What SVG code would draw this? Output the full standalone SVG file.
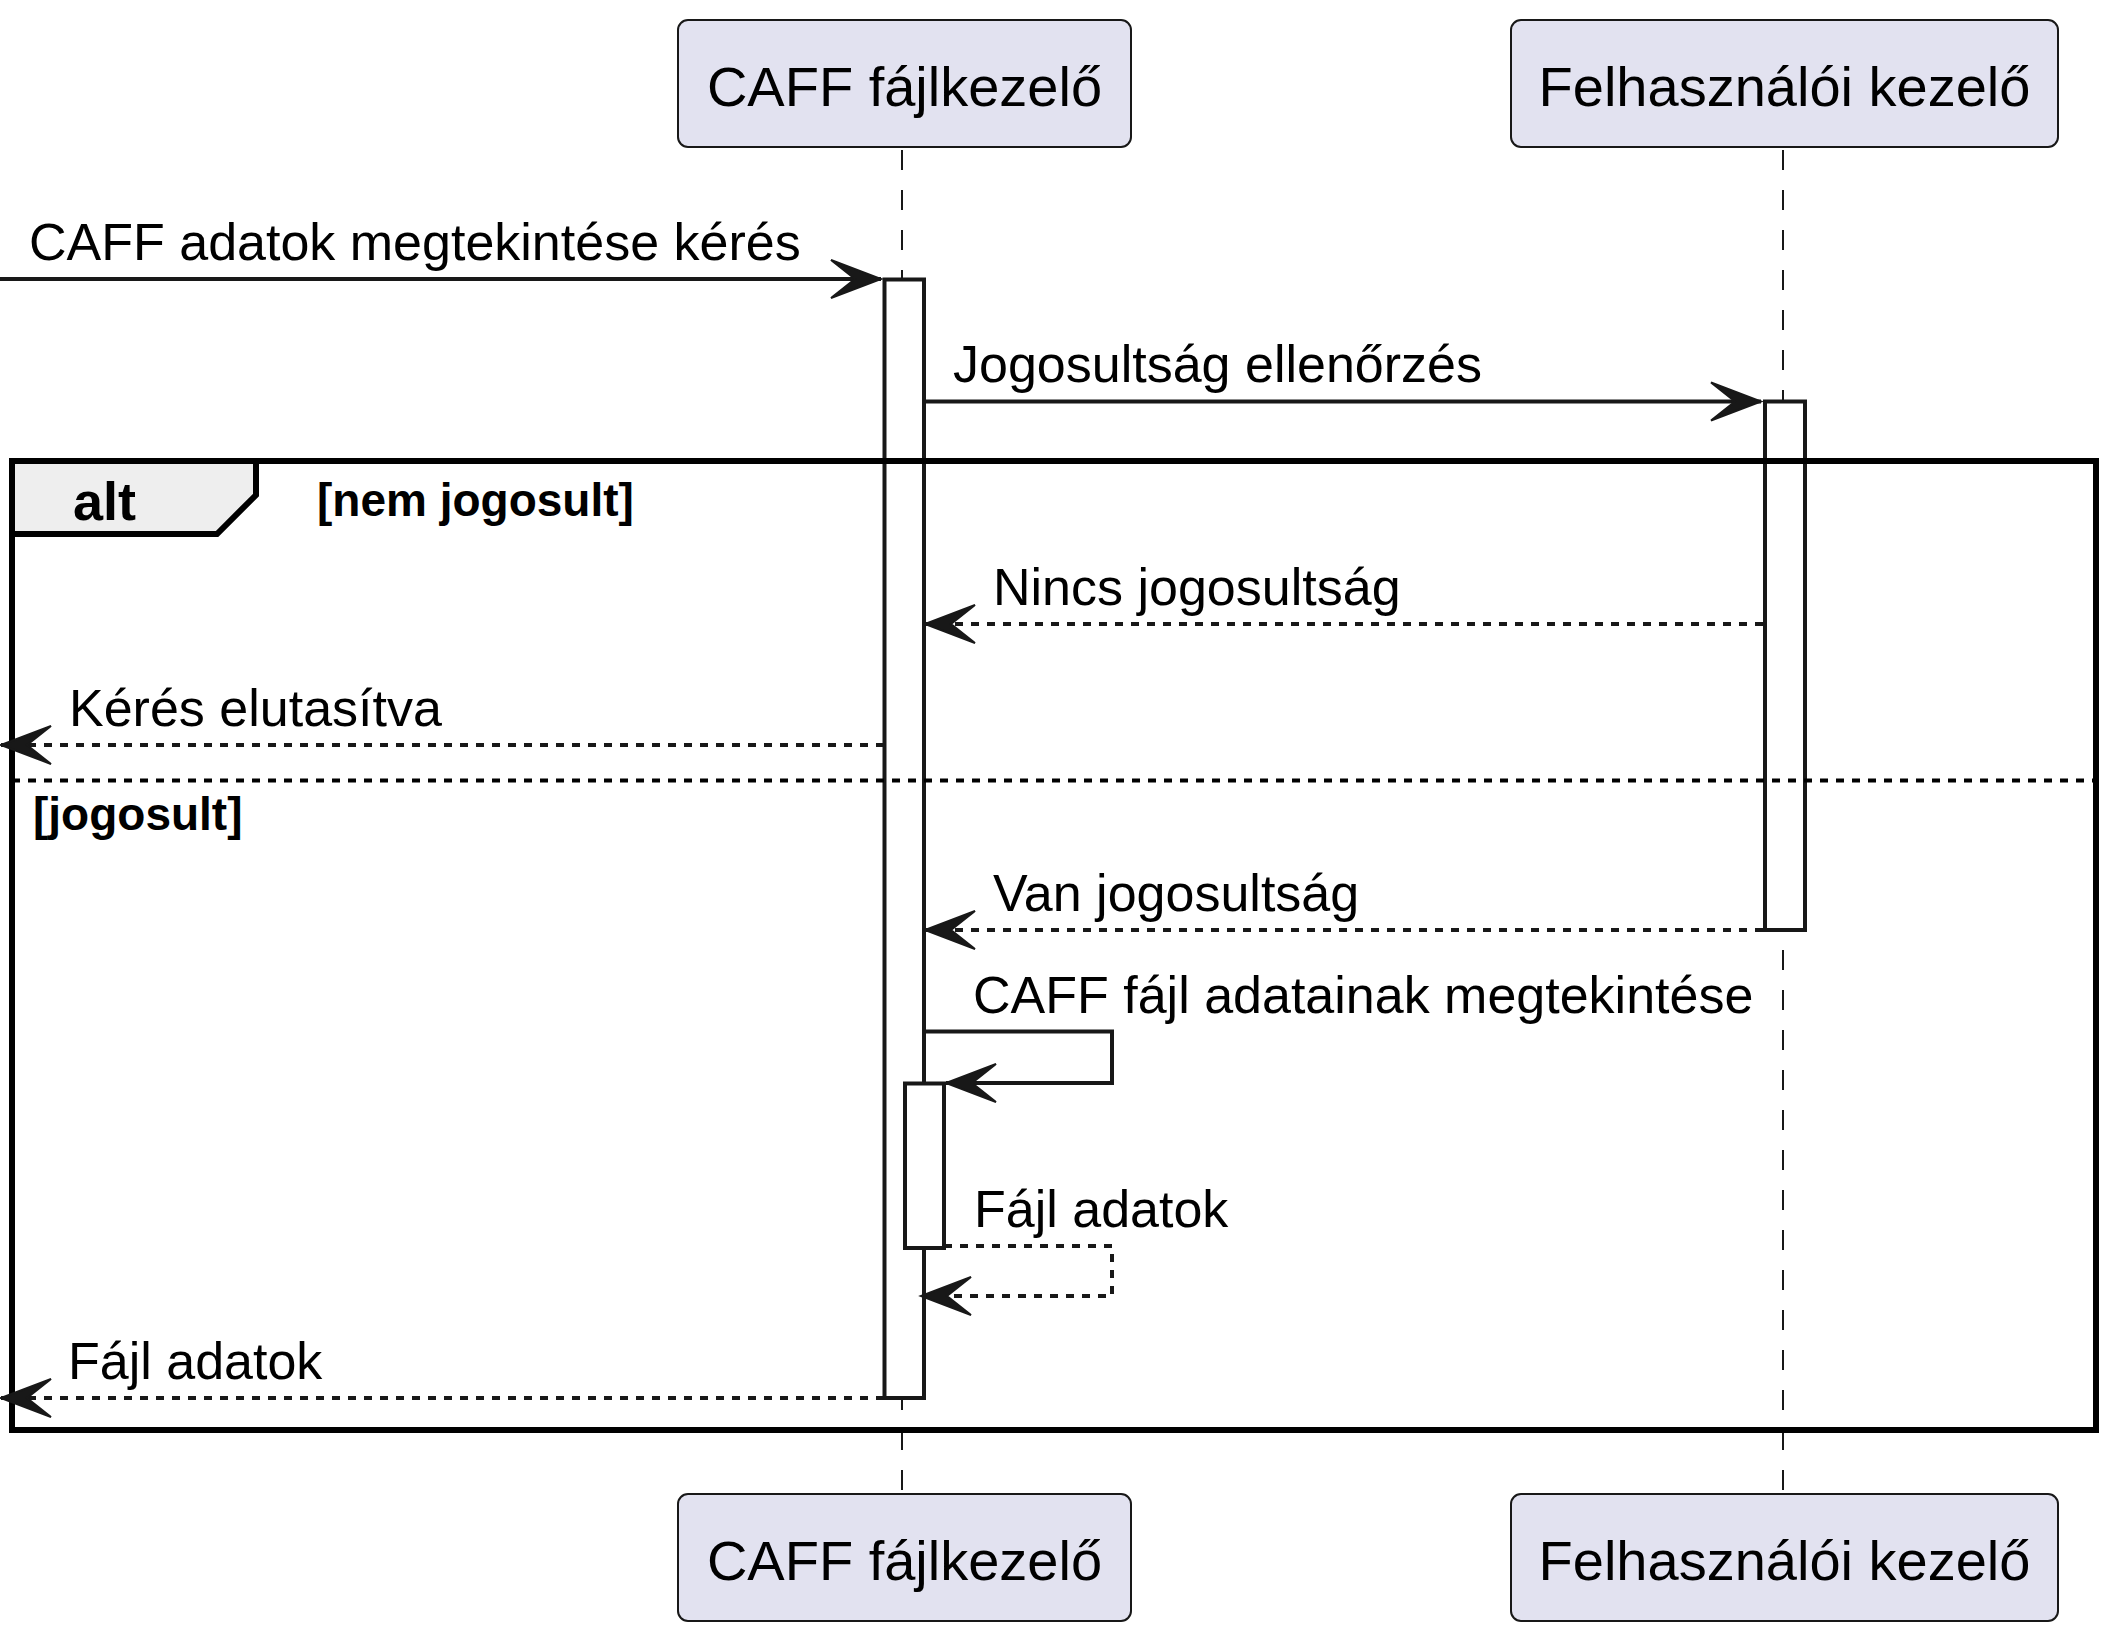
<svg xmlns="http://www.w3.org/2000/svg" width="2122" height="1640" viewBox="0 0 2122 1640">
<defs>
<style>
.part{fill:#E2E2F0;stroke:#181818;stroke-width:2}
.ptxt{font-family:"Liberation Sans",Arial,sans-serif;font-size:56px;fill:#000;text-anchor:middle}
.life{stroke:#181818;stroke-width:2;stroke-dasharray:20,20;fill:none}
.act{fill:#FFFFFF;stroke:#181818;stroke-width:4}
.msg{stroke:#181818;stroke-width:4;fill:none;marker-end:url(#ah)}
.dash{stroke-dasharray:8,8}
.mtxt{font-family:"Liberation Sans",Arial,sans-serif;font-size:52px;fill:#000}
.frame{fill:none;stroke:#000;stroke-width:6}
.tab{fill:#EEEEEE;stroke:#000;stroke-width:6}
.sep{stroke:#000;stroke-width:4;stroke-dasharray:8,8}
.btxt{font-family:"Liberation Sans",Arial,sans-serif;font-weight:bold;fill:#000}
</style>
<marker id="ah" markerUnits="userSpaceOnUse" markerWidth="56" markerHeight="46" refX="52" refY="21" orient="auto" overflow="visible">
<polygon points="2,2 52,21 2,40 26,21" fill="#181818" stroke="#181818" stroke-width="2" stroke-linejoin="miter"/>
</marker>
</defs>
<rect width="2122" height="1640" fill="#FFFFFF"/>
<g id="lifelines">
<line class="life" x1="902" y1="150" x2="902" y2="1494"/>
<line class="life" x1="1783" y1="150" x2="1783" y2="1494"/>
</g>
<g id="caff-top"><rect class="part" x="678" y="20" width="453" height="127" rx="10"/><text class="ptxt" x="904.5" y="106">CAFF fájlkezelő</text></g>
<g id="felh-top"><rect class="part" x="1511" y="20" width="547" height="127" rx="10"/><text class="ptxt" x="1784.5" y="106">Felhasználói kezelő</text></g>
<g id="caff-bottom"><rect class="part" x="678" y="1494" width="453" height="127" rx="10"/><text class="ptxt" x="904.5" y="1580">CAFF fájlkezelő</text></g>
<g id="felh-bottom"><rect class="part" x="1511" y="1494" width="547" height="127" rx="10"/><text class="ptxt" x="1784.5" y="1580">Felhasználói kezelő</text></g>
<g id="activations">
<rect class="act" x="884.5" y="279.5" width="39.5" height="1118.5"/>
<rect class="act" x="1765" y="401.5" width="40" height="528.5"/>
<rect class="act" x="905" y="1083.5" width="39" height="164.5"/>
</g>
<g id="alt-frame">
<rect class="frame" x="12" y="461" width="2084" height="969"/>
<path class="tab" d="M12,461 H256 V495 L217,534 H12 Z"/>
<text class="btxt" x="73" y="520" font-size="54">alt</text>
<text class="btxt" x="317" y="516" font-size="46">[nem jogosult]</text>
<line class="sep" x1="12" y1="780.5" x2="2096" y2="780.5"/>
<text class="btxt" x="33" y="830" font-size="46">[jogosult]</text>
</g>
<g id="connectors">
<path class="msg" d="M0,279 H881"/>
<text class="mtxt" x="29" y="260">CAFF adatok megtekintése kérés</text>
<path class="msg" d="M924,401.5 H1761"/>
<text class="mtxt" x="953" y="382">Jogosultság ellenőrzés</text>
<path class="msg dash" d="M1763,624 H925"/>
<text class="mtxt" x="993" y="605">Nincs jogosultság</text>
<path class="msg dash" d="M884,745 H1"/>
<text class="mtxt" x="69" y="726">Kérés elutasítva</text>
<path class="msg dash" d="M1763,930 H925"/>
<text class="mtxt" x="993" y="911">Van jogosultság</text>
<path class="msg" d="M924,1031.5 H1112 V1083 H946"/>
<text class="mtxt" x="973" y="1013">CAFF fájl adatainak megtekintése</text>
<path class="msg dash" d="M944,1246 H1112 V1296 H921"/>
<text class="mtxt" x="974" y="1227">Fájl adatok</text>
<path class="msg dash" d="M884,1398 H1"/>
<text class="mtxt" x="68" y="1379">Fájl adatok</text>
</g>
</svg>
